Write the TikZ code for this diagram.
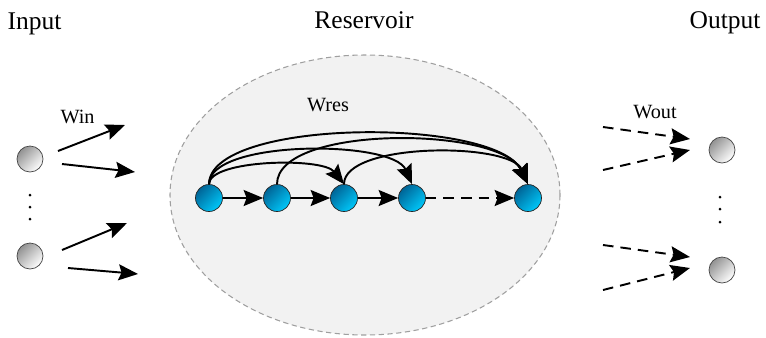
\documentclass[tikz,border=0pt]{standalone}
\usepackage{fontspec}
\setmainfont{Liberation Serif}
\usepackage{xcolor}
\usetikzlibrary{arrows.meta}

\definecolor{resdark}{RGB}{0,100,150}
\definecolor{reslight}{RGB}{0,200,250}
\definecolor{poolgray}{RGB}{242,242,242}

\tikzset{
  ioball/.style={circle, draw=gray!55!black, minimum size=0.52cm, inner sep=0pt,
    top color=gray!85, bottom color=white, shading angle=45},
  resball/.style={circle, draw=gray!30!black, minimum size=0.54cm, inner sep=0pt,
    top color=resdark, bottom color=reslight, shading angle=45},
  arr/.style={-{Stealth[length=3.9mm,width=3.2mm,inset=0.6mm]}, line width=1.1pt},
  dasharr/.style={arr, dash pattern=on 6pt off 4pt},
  heading/.style={font=\fontsize{14.5}{16}\selectfont, anchor=base},
  wlabel/.style={font=\fontsize{11.5}{13}\selectfont, anchor=base},
}

\begin{document}
\begin{tikzpicture}
  \useasboundingbox (0,0) rectangle (15.32,6.74);
  % reservoir pool
  \draw[gray!75, line width=0.6pt, dash pattern=on 3pt off 2pt, fill=poolgray]
    (7.3,2.84) ellipse (3.9 and 2.8);
  % headings
  \node[heading] (intitle) at (0.69,6.16) {Input};
  \node[heading] (restitle) at (7.28,6.18) {Reservoir};
  \node[heading] (outtitle) at (14.5,6.18) {Output};
  % input layer
  \node[ioball] (in1) at (0.6,3.56) {};
  \node[ioball] (in2) at (0.6,1.62) {};
  \fill (0.6,2.84) circle (0.03);
  \fill (0.6,2.6) circle (0.03);
  \fill (0.6,2.36) circle (0.03);
  \node[wlabel] (win) at (1.55,4.28) {Win};
  \coordinate (a1s) at (1.16,3.72);
  \coordinate (a1e) at (2.5,4.24);
  \coordinate (a2s) at (1.24,3.46);
  \coordinate (a2e) at (2.7,3.3);
  \coordinate (a3s) at (1.24,1.74);
  \coordinate (a3e) at (2.54,2.28);
  \coordinate (a4s) at (1.36,1.38);
  \coordinate (a4e) at (2.76,1.26);
  \draw[arr] (a1s) -- (a1e);
  \draw[arr] (a2s) -- (a2e);
  \draw[arr] (a3s) -- (a3e);
  \draw[arr] (a4s) -- (a4e);
  % reservoir units
  \node[resball] (r1) at (4.18,2.78) {};
  \node[resball] (r2) at (5.54,2.78) {};
  \node[resball] (r3) at (6.88,2.78) {};
  \node[resball] (r4) at (8.24,2.78) {};
  \node[resball] (r5) at (10.56,2.78) {};
  \node[wlabel] (wres) at (6.56,4.52) {Wres};
  \draw[arr] (r1) -- (r2);
  \draw[arr] (r2) -- (r3);
  \draw[arr] (r3) -- (r4);
  \draw[dasharr] (r4) -- (r5);
  % recurrent links
  \draw[arr] (r1.north) .. controls (4.18,3.55) and (6.45,3.6) .. (r3.north);
  \draw[arr] (r1.north) .. controls (4.18,3.95) and (7.85,3.95) .. (r4.north);
  \draw[arr] (r1.north) .. controls (4.2,4.38) and (9.9,4.4) .. (r5.north);
  \draw[arr] (r2.north) .. controls (5.54,4.25) and (10.0,4.22) .. (r5.north);
  \draw[arr] (r3.north) .. controls (6.88,3.9) and (10.2,3.9) .. (r5.north);
  % output layer
  \node[ioball] (out1) at (14.44,3.74) {};
  \node[ioball] (out2) at (14.44,1.34) {};
  \fill (14.4,2.8) circle (0.03);
  \fill (14.4,2.56) circle (0.03);
  \fill (14.4,2.3) circle (0.03);
  \node[wlabel] (wout) at (13.1,4.38) {Wout};
  \coordinate (b1s) at (12.06,4.2);
  \coordinate (b1e) at (13.8,3.96);
  \coordinate (b2s) at (12.06,3.34);
  \coordinate (b2e) at (13.8,3.74);
  \coordinate (b3s) at (12.06,1.84);
  \coordinate (b3e) at (13.8,1.6);
  \coordinate (b4s) at (12.06,0.94);
  \coordinate (b4e) at (13.8,1.38);
  \draw[dasharr] (b1s) -- (b1e);
  \draw[dasharr] (b2s) -- (b2e);
  \draw[dasharr] (b3s) -- (b3e);
  \draw[dasharr] (b4s) -- (b4e);
\end{tikzpicture}
\end{document}
